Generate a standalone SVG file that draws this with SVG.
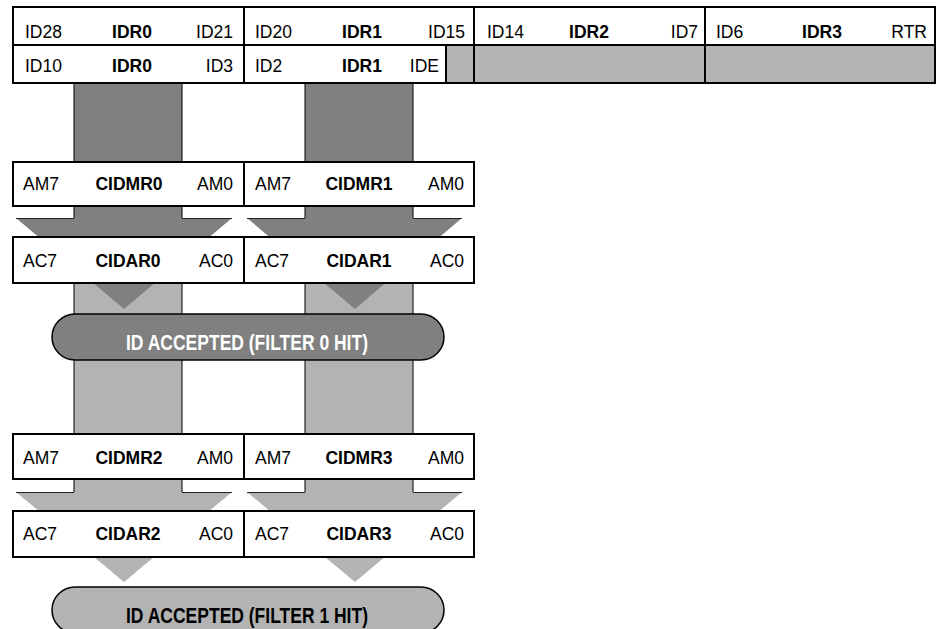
<svg xmlns="http://www.w3.org/2000/svg" width="941" height="629" viewBox="0 0 941 629">
<style>
.cell{fill:#fff;stroke:#000;stroke-width:2}
.gcell{fill:#b3b3b3;stroke:#000;stroke-width:2}
.t{font-family:"Liberation Sans",Arial,Helvetica,sans-serif;font-size:17.5px;fill:#000}
.b{font-weight:bold}
.m{text-anchor:middle}
.e{text-anchor:end}
.dbar{fill:#808080;stroke:#000;stroke-width:1}
.lbar{fill:#b3b3b3;stroke:#000;stroke-width:1}
.dark{fill:#808080}
.light{fill:#b3b3b3}
.edge{stroke:#222;stroke-width:1;fill:none}
.pill{stroke:#000;stroke-width:1.5}
.pt{font-family:"Liberation Sans",Arial,Helvetica,sans-serif;font-size:21.5px;font-weight:bold;text-anchor:middle}
</style>
<rect width="941" height="629" fill="#fff"/>
<g id="connectors">
  <rect class="lbar" x="74" y="282" width="108" height="34"/>
  <rect class="lbar" x="305" y="282" width="108" height="34"/>
  <rect class="dbar" x="74" y="82" width="108" height="140"/>
  <rect class="dbar" x="305" y="82" width="108" height="140"/>
  <polygon class="dark" points="16,218 232,218 124,309"/>
  <polygon class="dark" points="247,218 462,218 355,309"/>
  <path class="edge" d="M16,218.5H74M182,218.5H232M247,218.5H305M413,218.5H462"/>
  <rect class="lbar" x="74" y="358" width="108" height="78"/>
  <rect class="lbar" x="305" y="358" width="108" height="78"/>
  <rect class="lbar" x="74" y="478" width="108" height="18"/>
  <rect class="lbar" x="305" y="478" width="108" height="18"/>
  <polygon class="light" points="16,492 232,492 124,582"/>
  <polygon class="light" points="247,492 462,492 355,582"/>
  <path class="edge" d="M16,492.5H74M182,492.5H232M247,492.5H305M413,492.5H462"/>
</g>
<g id="IDR0_hi"><rect class="cell" x="13" y="7" width="231" height="38"/>
  <text class="t" x="25" y="37.5">ID28</text><text class="t b m" x="132" y="37.5">IDR0</text><text class="t e" x="233" y="37.5">ID21</text></g>
<g id="IDR1_hi"><rect class="cell" x="244" y="7" width="230" height="38"/>
  <text class="t" x="255" y="37.5">ID20</text><text class="t b m" x="362" y="37.5">IDR1</text><text class="t e" x="465" y="37.5">ID15</text></g>
<g id="IDR2"><rect class="cell" x="474" y="7" width="231" height="38"/>
  <text class="t" x="487" y="37.5">ID14</text><text class="t b m" x="589" y="37.5">IDR2</text><text class="t e" x="698" y="37.5">ID7</text></g>
<g id="IDR3"><rect class="cell" x="705" y="7" width="230" height="38"/>
  <text class="t" x="716" y="37.5">ID6</text><text class="t b m" x="822" y="37.5">IDR3</text><text class="t e" x="927" y="37.5">RTR</text></g>
<g id="IDR0_lo"><rect class="cell" x="13" y="45" width="231" height="38"/>
  <text class="t" x="25" y="72">ID10</text><text class="t b m" x="132" y="72">IDR0</text><text class="t e" x="233" y="72">ID3</text></g>
<g id="IDR1_lo"><rect class="cell" x="244" y="45" width="202" height="38"/>
  <text class="t" x="255" y="72">ID2</text><text class="t b m" x="362" y="72">IDR1</text><text class="t e" x="439" y="72">IDE</text></g>
<g id="IDR1_lo_pad"><rect class="gcell" x="446" y="45" width="28" height="38"/></g>
<g id="IDR2_lo"><rect class="gcell" x="474" y="45" width="231" height="38"/></g>
<g id="IDR3_lo"><rect class="gcell" x="705" y="45" width="230" height="38"/></g>
<g id="CIDMR0"><rect class="cell" x="13" y="162" width="231" height="44"/>
  <text class="t" x="23" y="189.5">AM7</text><text class="t b m" x="129" y="189.5">CIDMR0</text><text class="t e" x="233" y="189.5">AM0</text></g>
<g id="CIDMR1"><rect class="cell" x="244" y="162" width="230" height="44"/>
  <text class="t" x="255" y="189.5">AM7</text><text class="t b m" x="359" y="189.5">CIDMR1</text><text class="t e" x="464" y="189.5">AM0</text></g>
<g id="CIDAR0"><rect class="cell" x="13" y="237" width="231" height="46"/>
  <text class="t" x="23" y="267">AC7</text><text class="t b m" x="128" y="267">CIDAR0</text><text class="t e" x="233" y="267">AC0</text></g>
<g id="CIDAR1"><rect class="cell" x="244" y="237" width="230" height="46"/>
  <text class="t" x="255" y="267">AC7</text><text class="t b m" x="359" y="267">CIDAR1</text><text class="t e" x="464" y="267">AC0</text></g>
<g id="FILTER0"><rect class="pill" fill="#808080" x="52" y="314" width="392" height="46" rx="23"/>
  <text class="pt" x="247" y="349.5" fill="#fff" textLength="242" lengthAdjust="spacingAndGlyphs">ID ACCEPTED (FILTER 0 HIT)</text></g>
<g id="CIDMR2"><rect class="cell" x="13" y="434" width="231" height="45"/>
  <text class="t" x="23" y="464">AM7</text><text class="t b m" x="129" y="464">CIDMR2</text><text class="t e" x="233" y="464">AM0</text></g>
<g id="CIDMR3"><rect class="cell" x="244" y="434" width="230" height="45"/>
  <text class="t" x="255" y="464">AM7</text><text class="t b m" x="359" y="464">CIDMR3</text><text class="t e" x="464" y="464">AM0</text></g>
<g id="CIDAR2"><rect class="cell" x="13" y="511" width="231" height="46"/>
  <text class="t" x="23" y="540">AC7</text><text class="t b m" x="128" y="540">CIDAR2</text><text class="t e" x="233" y="540">AC0</text></g>
<g id="CIDAR3"><rect class="cell" x="244" y="511" width="230" height="46"/>
  <text class="t" x="255" y="540">AC7</text><text class="t b m" x="359" y="540">CIDAR3</text><text class="t e" x="464" y="540">AC0</text></g>
<g id="FILTER1"><rect class="pill" fill="#b3b3b3" x="52" y="587" width="392" height="46" rx="23"/>
  <text class="pt" x="247" y="623" fill="#000" textLength="242" lengthAdjust="spacingAndGlyphs">ID ACCEPTED (FILTER 1 HIT)</text></g>
</svg>
